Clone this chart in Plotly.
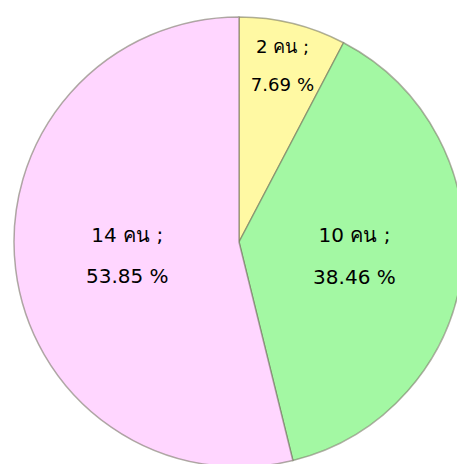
import plotly.graph_objects as go

# Data
counts = [2, 10, 14]
percents = [7.69, 38.46, 53.85]
unit = "คน"
colors = ["#FFF9A3", "#A3F8A3", "#FFD6FF"]

W, H = 466, 470
labels_text = [
    f"<span style='font-size:20px'>{c} {unit} ;</span><br><br><br><br>"
    f"<span style='font-size:20px'>{p:.2f} %</span>"
    for c, p in zip(counts, percents)
]

fig = go.Figure(
    go.Pie(
        values=counts,
        labels=[f"{c} {unit}" for c in counts],
        text=labels_text,
        textinfo="text",
        textposition="inside",
        insidetextorientation="horizontal",
        sort=False,
        direction="clockwise",
        rotation=0,
        marker=dict(colors=colors, line=dict(color="rgba(110,110,90,0.55)", width=1.5)),
        textfont=dict(family="Tahoma, DejaVu Sans, Noto Sans, sans-serif", size=8, color="#000000"),
        showlegend=False,
        hoverinfo="skip",
        domain=dict(x=[14 / W, 464 / W], y=[1 - 467 / H, 1 - 17 / H]),
    )
)
fig.update_layout(
    width=W,
    height=H,
    margin=dict(l=0, r=0, t=0, b=0),
    paper_bgcolor="white",
    plot_bgcolor="white",
    showlegend=False,
)
fig.write_html(
    "out.html",
    config={"displayModeBar": False},
    post_script="document.body.style.margin='0';document.body.style.overflow='hidden';document.documentElement.style.overflow='hidden';",
)
